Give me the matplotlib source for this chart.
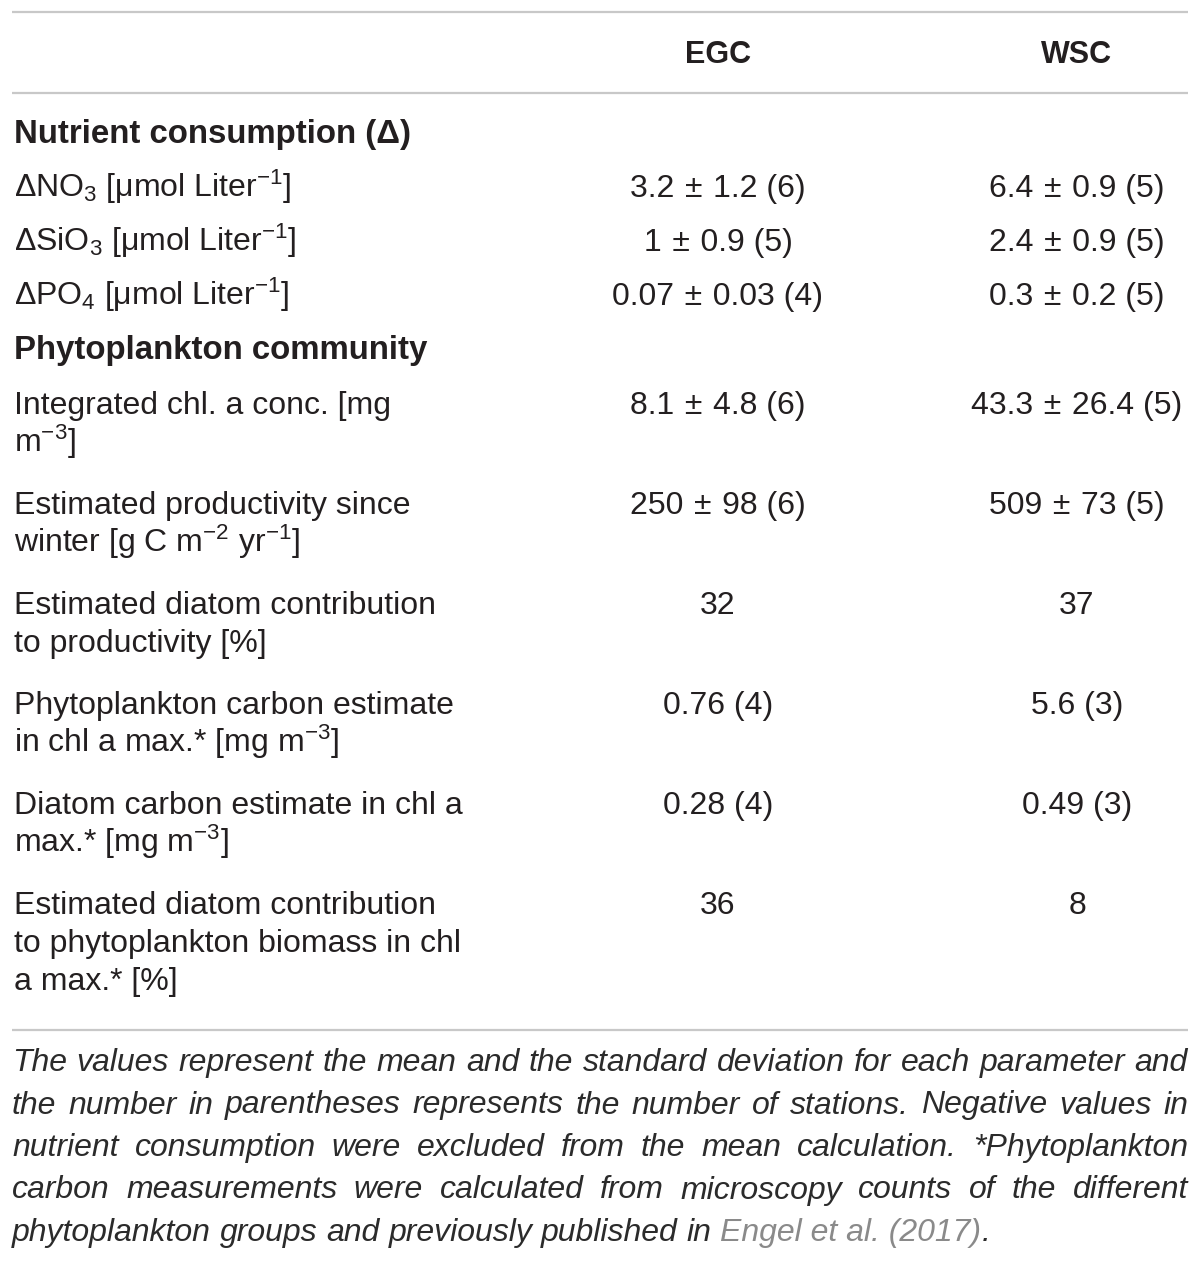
import matplotlib
matplotlib.use("Agg")
import matplotlib.pyplot as plt

plt.rcParams['mathtext.fontset'] = 'custom'
plt.rcParams['mathtext.rm'] = 'Liberation Sans'
plt.rcParams['mathtext.it'] = 'Liberation Sans:italic'
plt.rcParams['mathtext.bf'] = 'Liberation Sans:bold'
plt.rcParams['font.family'] = ['Liberation Sans', 'DejaVu Sans']

# table content
col_headers = ["EGC", "WSC"]
sections = ["Nutrient consumption (Δ)", "Phytoplankton community"]

nutrient_labels = [
    ["ΔNO$_3$ [μmol Liter$^{-1}$]"],
    ["ΔSiO$_3$ [μmol Liter$^{-1}$]"],
    ["ΔPO$_4$ [μmol Liter$^{-1}$]"],
]
nutrient_egc = ["3.2 ± 1.2 (6)", "1 ± 0.9 (5)", "0.07 ± 0.03 (4)"]
nutrient_wsc = ["6.4 ± 0.9 (5)", "2.4 ± 0.9 (5)", "0.3 ± 0.2 (5)"]

phyto_labels = [
    ["Integrated chl. a conc. [mg", "m$^{-3}$]"],
    ["Estimated productivity since", "winter [g C m$^{-2}$ yr$^{-1}$]"],
    ["Estimated diatom contribution", "to productivity [%]"],
    ["Phytoplankton carbon estimate", "in chl a max.* [mg m$^{-3}$]"],
    ["Diatom carbon estimate in chl a", "max.* [mg m$^{-3}$]"],
    ["Estimated diatom contribution", "to phytoplankton biomass in chl", "a max.* [%]"],
]
phyto_egc = ["8.1 ± 4.8 (6)", "250 ± 98 (6)", "32", "0.76 (4)", "0.28 (4)", "36"]
phyto_wsc = ["43.3 ± 26.4 (5)", "509 ± 73 (5)", "37", "5.6 (3)", "0.49 (3)", "8"]

footnote_lines = [
    "The values represent the mean and the standard deviation for each parameter and",
    "the number in parentheses represents the number of stations. Negative values in",
    "nutrient consumption were excluded from the mean calculation. *Phytoplankton",
    "carbon measurements were calculated from microscopy counts of the different",
    "phytoplankton groups and previously published in",
]
footnote_link = "Engel et al. (2017)"

W, H = 1200, 1263
TXT = "#231f20"
RULE = "#c8c8c8"
FS = 23
FS_HEAD = 22
FS_SECT = 23.8
FS_FOOT = 23

fig = plt.figure(figsize=(W / 100, H / 100), dpi=100)
ax = fig.add_axes([0, 0, 1, 1])
ax.set_xlim(0, W)
ax.set_ylim(H, 0)
ax.axis("off")


def val(s):
    # slightly wider gaps around the plus-minus sign, as in the typeset table
    return s.replace(" ± ", "\u2004±\u2004")


x0, x1 = 12, 1188
col_x = [718, 1077]
for yy in [12, 93, 1030]:
    ax.plot([x0, x1], [yy, yy], color=RULE, lw=1.6, solid_capstyle="butt")

for cx, h in zip(col_x, col_headers):
    ax.text(cx, 63, h, ha="center", va="baseline", fontsize=FS_HEAD, fontweight="bold", color=TXT)

# rows
y = 143
ax.text(14, y, sections[0], va="baseline", fontsize=FS_SECT, fontweight="bold", color=TXT)
y += 54
for lab, e, w in zip(nutrient_labels, nutrient_egc, nutrient_wsc):
    ax.text(14, y, lab[0], va="baseline", fontsize=FS, color=TXT)
    ax.text(col_x[0], y, val(e), ha="center", va="baseline", fontsize=FS, color=TXT)
    ax.text(col_x[1], y, val(w), ha="center", va="baseline", fontsize=FS, color=TXT)
    y += 54
ax.text(14, y, sections[1], va="baseline", fontsize=FS_SECT, fontweight="bold", color=TXT)
y += 55
for lab, e, w in zip(phyto_labels, phyto_egc, phyto_wsc):
    for i, line in enumerate(lab):
        ax.text(14, y + 38 * i, line, va="baseline", fontsize=FS, color=TXT)
    ax.text(col_x[0], y, val(e), ha="center", va="baseline", fontsize=FS, color=TXT)
    ax.text(col_x[1], y, val(w), ha="center", va="baseline", fontsize=FS, color=TXT)
    y += 100

# justified italic footnote
renderer = fig.canvas.get_renderer()
foot_kw = dict(va="baseline", fontsize=FS_FOOT, fontstyle="italic", color="#2b2b2b")


def word_width(s, **kw):
    t = ax.text(0, 0, s, **kw)
    bb = t.get_window_extent(renderer)
    t.remove()
    return bb.width


space_w = word_width("a b", **foot_kw) - word_width("ab", **foot_kw)
fy = 1071
for k, line in enumerate(footnote_lines):
    words = line.split(" ")
    widths = [word_width(wd, **foot_kw) for wd in words]
    last = k == len(footnote_lines) - 1
    if last:
        gap = space_w
    else:
        gap = (x1 - x0 - sum(widths)) / (len(words) - 1)
    xx = x0
    for wd, wdw in zip(words, widths):
        ax.text(xx, fy, wd, **foot_kw)
        xx += wdw + gap
    if last:
        ax.text(xx, fy, footnote_link, va="baseline", fontsize=FS_FOOT,
                fontstyle="italic", color="#8a8a8a")
        xx += word_width(footnote_link, **foot_kw)
        ax.text(xx, fy, ".", **foot_kw)
    fy += 42.5

fig.savefig("out.png", dpi=100)
